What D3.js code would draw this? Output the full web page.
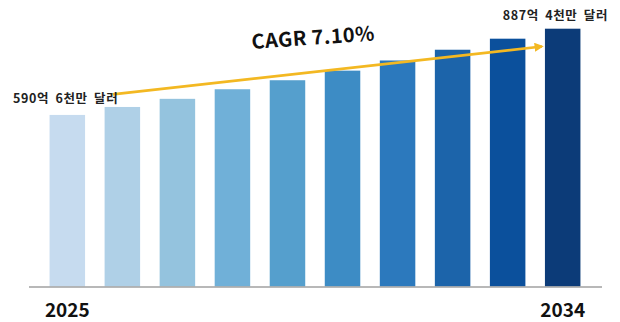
<!DOCTYPE html>
<html>
<head>
<meta charset="utf-8">
<script src="https://cdn.jsdelivr.net/npm/d3@7"></script>
<style>
  body { margin: 0; background: #fff; }
  svg { display: block; }
  text { font-family: "Noto Sans CJK KR", "Noto Sans", sans-serif; }
</style>
</head>
<body>
<svg id="chart" width="620" height="322"></svg>
<script>
const years = [2025, 2026, 2027, 2028, 2029, 2030, 2031, 2032, 2033, 2034];
const values = [59.06, 61.8, 64.6, 67.9, 71.0, 74.3, 77.8, 81.5, 85.3, 88.74];
const colors = ['#c6dbef', '#afd0e7', '#94c3de', '#70b0d8', '#559fcd', '#3d8cc5', '#2c79bd', '#1c64aa', '#0b509c', '#0c3b78'];
const startLabel = '590억 6천만 달러';
const endLabel = '887억 4천만 달러';
const cagrLabel = 'CAGR 7.10%';
const tickYears = [2025, 2034];

const svg = d3.select('#chart');
const baseY = 286.5;

const x = d3.scaleBand()
    .domain(years)
    .range([32.5, 597.5])
    .paddingInner(0.355)
    .paddingOuter(0.31);

const y = d3.scaleLinear()
    .domain([0, 88.74])
    .range([baseY, 28.7]);

svg.selectAll('.bar')
    .data(years)
    .join('rect')
    .attr('class', 'bar')
    .attr('x', d => x(d))
    .attr('width', x.bandwidth())
    .attr('y', (d, i) => y(values[i]))
    .attr('height', (d, i) => baseY - y(values[i]))
    .attr('fill', (d, i) => colors[i]);

// baseline
svg.append('line')
    .attr('x1', 29).attr('x2', 602)
    .attr('y1', baseY + 0.5).attr('y2', baseY + 0.5)
    .attr('stroke', '#a0a0a0')
    .attr('stroke-width', 1.5);

// year labels under first and last bars
svg.selectAll('.year')
    .data(tickYears)
    .join('text')
    .attr('class', 'year')
    .attr('x', d => x(d) + x.bandwidth() / 2)
    .attr('y', 317)
    .attr('text-anchor', 'middle')
    .attr('font-size', 19)
    .attr('font-weight', 'bold')
    .attr('fill', '#111')
    .text(d => d);

// CAGR arrow
svg.append('defs').append('marker')
    .attr('id', 'arrow')
    .attr('viewBox', '0 0 10 10')
    .attr('refX', 8).attr('refY', 5)
    .attr('markerWidth', 3.4).attr('markerHeight', 3.4)
    .attr('orient', 'auto')
    .append('path')
    .attr('d', 'M0,0 L10,5 L0,10 Z')
    .attr('fill', '#f3b822');

const x0 = x(years[1]) + 8;
const x1 = x(years[9]) - 3;
svg.append('line')
    .attr('x1', x0).attr('y1', 94.3)
    .attr('x2', x1).attr('y2', 46.5)
    .attr('stroke', '#f3b822')
    .attr('stroke-width', 2.7)
    .attr('marker-end', 'url(#arrow)');

svg.append('text')
    .attr('x', 13)
    .attr('y', 103)
    .attr('font-size', 12.5)
    .attr('font-weight', 'bold')
    .attr('letter-spacing', 0.6)
    .attr('word-spacing', 3)
    .attr('fill', '#222')
    .text(startLabel);

svg.append('text')
    .attr('x', 608)
    .attr('y', 20)
    .attr('text-anchor', 'end')
    .attr('font-size', 12.5)
    .attr('font-weight', 'bold')
    .attr('letter-spacing', 0.6)
    .attr('word-spacing', 3)
    .attr('fill', '#222')
    .text(endLabel);

svg.append('text')
    .attr('transform', 'translate(252,49) rotate(-4)')
    .attr('font-size', 20)
    .attr('font-weight', 'bold')
    .attr('letter-spacing', 0.4)
    .attr('fill', '#111')
    .text(cagrLabel);
</script>
</body>
</html>
